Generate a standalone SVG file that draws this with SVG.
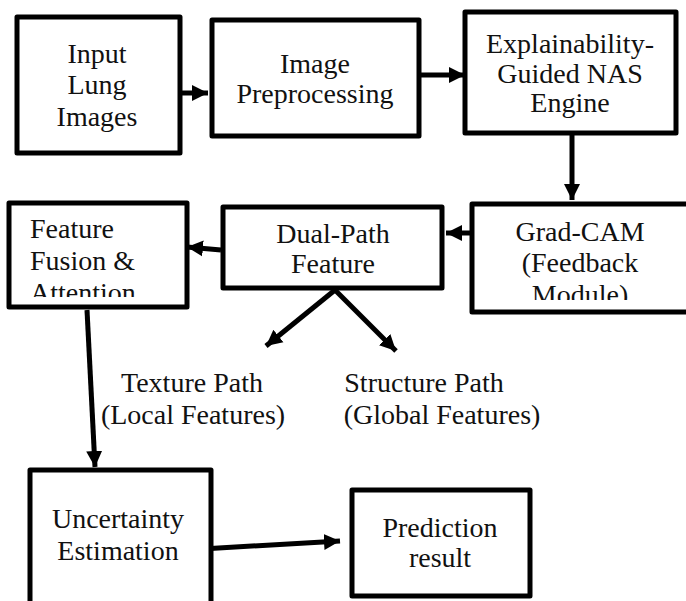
<svg xmlns="http://www.w3.org/2000/svg" width="686" height="601" viewBox="0 0 686 601">
<style>
.box{fill:#fff;stroke:#000;stroke-width:5;stroke-linejoin:round}
.t{font-family:"Liberation Serif","Times New Roman",serif;font-size:28px;fill:#111}
.c{text-anchor:middle}
.ln{stroke:#000;stroke-width:5;fill:none}
</style>
<defs>
<marker id="ah" markerWidth="4" markerHeight="4" refX="3.2" refY="2" orient="auto" markerUnits="strokeWidth">
<path d="M0,0.4 L3.2,2 L0,3.6 z" fill="#000"/>
</marker>
<clipPath id="clipGrad"><rect x="470" y="200" width="220" height="100"/></clipPath>
<clipPath id="clipFus"><rect x="0" y="200" width="190" height="97"/></clipPath>
</defs>
<g id="connectors">
<line class="ln" x1="182" y1="93" x2="208" y2="93" marker-end="url(#ah)"/>
<line class="ln" x1="420" y1="75" x2="465" y2="75" marker-end="url(#ah)"/>
<line class="ln" x1="572" y1="134" x2="572" y2="200" marker-end="url(#ah)"/>
<line class="ln" x1="474" y1="233" x2="446" y2="233" marker-end="url(#ah)"/>
<line class="ln" x1="221" y1="250" x2="187" y2="247" marker-end="url(#ah)"/>
<line class="ln" x1="335" y1="290" x2="266" y2="346" marker-end="url(#ah)"/>
<line class="ln" x1="335" y1="290" x2="396" y2="351" marker-end="url(#ah)"/>
<line class="ln" x1="87" y1="310" x2="95" y2="467" marker-end="url(#ah)"/>
<line class="ln" x1="202" y1="549" x2="340" y2="541" marker-end="url(#ah)"/>
</g>
<g id="input">
<rect class="box" x="17" y="17" width="163" height="136"/>
<text class="t c" x="97" y="63">Input</text>
<text class="t c" x="97" y="94">Lung</text>
<text class="t c" x="97" y="126">Images</text>
</g>
<g id="preprocessing">
<rect class="box" x="212" y="20" width="207" height="116"/>
<text class="t c" x="315" y="73">Image</text>
<text class="t c" x="315" y="103">Preprocessing</text>
</g>
<g id="nas">
<rect class="box" x="465" y="12" width="211" height="121"/>
<text class="t c" x="570" y="53">Explainability-</text>
<text class="t c" x="570" y="83">Guided NAS</text>
<text class="t c" x="570" y="112">Engine</text>
</g>
<g id="gradcam">
<rect class="box" x="472" y="204" width="220" height="108"/>
<g clip-path="url(#clipGrad)">
<text class="t c" x="580" y="241">Grad-CAM</text>
<text class="t c" x="580" y="272">(Feedback</text>
<text class="t c" x="580" y="304">Module)</text>
</g>
</g>
<g id="dualpath">
<rect class="box" x="223" y="207" width="219" height="81"/>
<text class="t c" x="333" y="243">Dual-Path</text>
<text class="t c" x="333" y="273">Feature</text>
</g>
<g id="fusion">
<rect class="box" x="9" y="203" width="178" height="104"/>
<g clip-path="url(#clipFus)">
<text class="t" x="30" y="238">Feature</text>
<text class="t" x="30" y="270">Fusion &amp;</text>
<text class="t" x="30" y="302">Attention</text>
</g>
</g>
<g id="texture">
<text class="t c" x="192" y="392">Texture Path</text>
<text class="t c" x="193" y="424">(Local Features)</text>
</g>
<g id="structure">
<text class="t c" x="424" y="392">Structure Path</text>
<text class="t c" x="442" y="424">(Global Features)</text>
</g>
<g id="uncertainty">
<rect class="box" x="30" y="470" width="181" height="135"/>
<text class="t c" x="118" y="528">Uncertainty</text>
<text class="t c" x="118" y="560">Estimation</text>
</g>
<g id="prediction">
<rect class="box" x="352" y="490" width="178" height="106"/>
<text class="t c" x="440" y="537">Prediction</text>
<text class="t c" x="440" y="567">result</text>
</g>
</svg>
